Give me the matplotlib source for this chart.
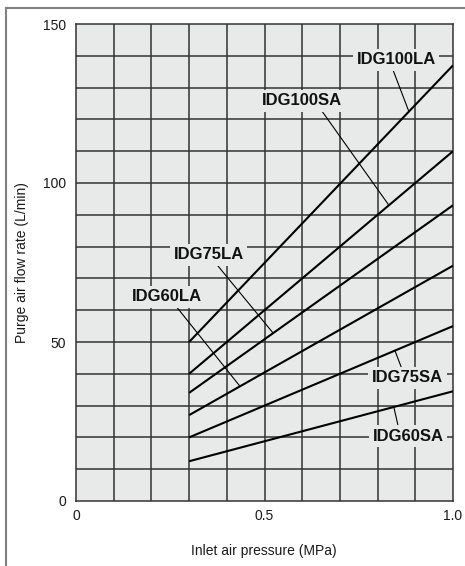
import matplotlib
matplotlib.use("Agg")
import matplotlib.pyplot as plt
import numpy as np
from matplotlib.lines import Line2D

plt.rcParams['font.family'] = ['Liberation Sans', 'DejaVu Sans']

# ---- data ----
pressure = [0.3, 1.0]  # MPa
series_names = ["IDG100LA", "IDG100SA", "IDG75LA", "IDG60LA", "IDG75SA", "IDG60SA"]
flow_100LA = [50, 137]
flow_100SA = [40, 110]
flow_75LA = [34, 93]
flow_60LA = [27, 74]
flow_75SA = [20, 55]
flow_60SA = [12.5, 34.5]
series_values = [flow_100LA, flow_100SA, flow_75LA, flow_60LA, flow_75SA, flow_60SA]

x_ticks = [0, 0.5, 1.0]
x_ticklabels = ["0", "0.5", "1.0"]
y_ticks = [0, 50, 100, 150]
y_ticklabels = ["0", "50", "100", "150"]

# label placement (data coords of text centre), and leader start/end x
label_pos = [(0.849, 138.7), (0.60, 125.8), (0.352, 77.4), (0.24, 64.2), (0.879, 38.7), (0.881, 20.4)]
leader_start = [(0.841, 135.5), (0.653, 122.5), (0.369, 75.0), (0.263, 61.6), (0.862, 42.3), (0.854, 23.8)]
leader_end_x = [0.883, 0.830, 0.523, 0.435, 0.846, 0.843]

W, H = 465, 566
fig = plt.figure(figsize=(W / 100, H / 100), dpi=100)
bg = "#e8e9e9"

l, r, t, b = 76, 453, 24, 501
ax = fig.add_axes([l / W, (H - b) / H, (r - l) / W, (b - t) / H])
ax.set_facecolor(bg)
ax.set_xlim(0, 1.0)
ax.set_ylim(0, 150)

for xv in np.arange(0.1, 1.0, 0.1):
    ax.axvline(xv, color="#333333", lw=1.1, zorder=1)
for yv in np.arange(10, 150, 10):
    ax.axhline(yv, color="#333333", lw=1.1, zorder=1)

for sp in ax.spines.values():
    sp.set_color("#333333")
    sp.set_linewidth(1.1)
    sp.set_zorder(1)

ax.set_xticks(x_ticks)
ax.set_xticklabels(x_ticklabels)
ax.set_yticks(y_ticks)
ax.set_yticklabels(y_ticklabels)
ax.tick_params(length=0, labelsize=10, colors="#1a1a1a")
ax.tick_params(axis='y', pad=7)
ax.tick_params(axis='x', pad=6)

for name, vals, lp, ls, lx in zip(series_names, series_values, label_pos, leader_start, leader_end_x):
    ax.plot(pressure, vals, color="black", lw=1.5, zorder=3, solid_capstyle='butt')
    ly = np.interp(lx, pressure, vals)
    ax.plot([ls[0], lx], [ls[1], ly], color="black", lw=0.8, zorder=2)
    ax.text(lp[0], lp[1], name, ha="center", va="center", fontsize=12, fontweight="bold",
            color="#111111", zorder=4,
            bbox=dict(boxstyle="square,pad=0.22", facecolor=bg, edgecolor="none"))

fig.text(264 / W, 1 - 551 / H, "Inlet air pressure (MPa)", ha="center", va="center", fontsize=10, color="#1a1a1a")
fig.text(22 / W, 1 - 262.5 / H, "Purge air flow rate (L/min)", ha="center", va="center", rotation=90,
         fontsize=10, color="#1a1a1a")

# outer frame (top and left)
fig.add_artist(Line2D([6 / W, 1.0], [1 - 8 / H, 1 - 8 / H], transform=fig.transFigure, color="#808080", lw=1.5))
fig.add_artist(Line2D([6 / W, 6 / W], [1 - 8 / H, 0], transform=fig.transFigure, color="#808080", lw=1.5))

fig.savefig("out.png", dpi=100)
